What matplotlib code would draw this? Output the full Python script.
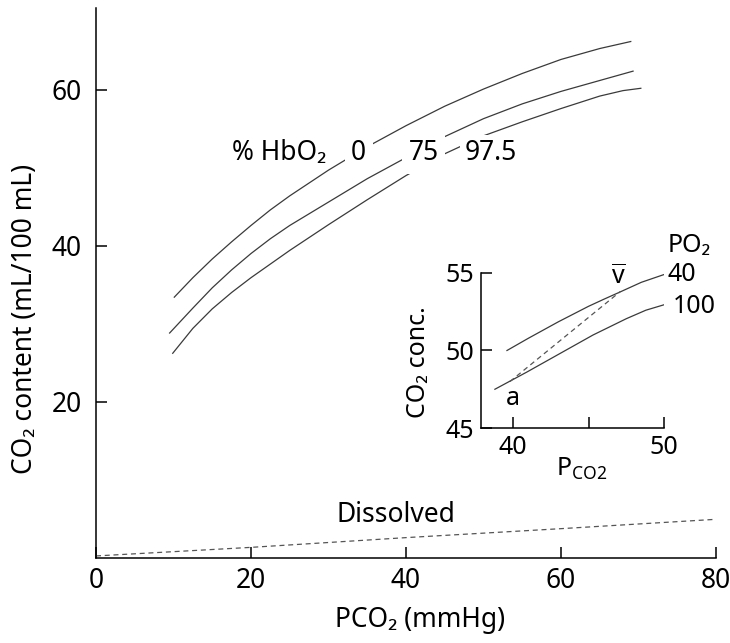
import numpy as np
import matplotlib
matplotlib.use("Agg")
import matplotlib.pyplot as plt

plt.rcParams['font.family'] = ['Noto Sans', 'DejaVu Sans']
plt.rcParams['mathtext.fontset'] = 'custom'
plt.rcParams['mathtext.rm'] = 'Noto Sans'
plt.rcParams['mathtext.it'] = 'Noto Sans:italic'

# main chart: CO2 dissociation curves for three HbO2 saturations
hb0_x = [10.1, 12.5, 15, 17.5, 20, 22.5, 25, 30, 35, 40, 45, 50, 55, 60, 65, 69]
hb0_y = [33.4, 35.9, 38.3, 40.5, 42.6, 44.6, 46.4, 49.7, 52.7, 55.4, 57.9, 60.1, 62.1, 63.9, 65.3, 66.2]
hb75_x = [9.5, 12.5, 15, 17.5, 20, 22.5, 25, 30, 35, 40, 45, 50, 55, 60, 65, 69.3]
hb75_y = [28.8, 32.0, 34.6, 36.9, 39.0, 40.9, 42.6, 45.6, 48.6, 51.3, 54.0, 56.3, 58.2, 59.8, 61.2, 62.4]
hb975_x = [9.9, 12.5, 15, 17.5, 20, 25, 30, 35, 40, 45, 50, 55, 60, 65, 68, 70.3]
hb975_y = [26.2, 29.4, 31.9, 34.0, 35.9, 39.4, 42.7, 45.9, 49.0, 51.8, 54.1, 55.9, 57.6, 59.2, 59.9, 60.2]
dissolved_x = [0, 20, 40, 60, 80]
dissolved_y = [0.2, 1.3, 2.55, 3.7, 4.9]

# inset: arterial (a) to mixed venous (v) points
po2_40_x = [39.6, 41, 43, 45, 46, 47.1, 48.5, 50]
po2_40_y = [50.0, 50.78, 51.85, 52.85, 53.3, 53.78, 54.4, 54.9]
po2_100_x = [38.8, 40.9, 43.1, 45.3, 47.5, 48.8, 50]
po2_100_y = [47.5, 48.6, 49.8, 51.0, 52.05, 52.6, 52.95]
av_x = [39.8, 47.1]
av_y = [48.0, 53.8]

line_col = '#3a3a3a'
fs = 19

fig = plt.figure(figsize=(7.3, 6.43), dpi=100)
ax = fig.add_axes([96 / 730, 1 - 557.5 / 643, 620 / 730, 549.5 / 643])

for xs, ys in [(hb0_x, hb0_y), (hb75_x, hb75_y), (hb975_x, hb975_y)]:
    ax.plot(xs, ys, color=line_col, lw=0.9, solid_joinstyle='round')
ax.plot(dissolved_x, dissolved_y, color='#555555', lw=0.9, linestyle=(0, (4, 3)))

ax.set_xlim(0, 80)
ax.set_ylim(0, 70.5)
ax.set_xticks([0, 20, 40, 60, 80])
ax.set_yticks([20, 40, 60])
ax.tick_params(direction='in', length=8, width=1.1, labelsize=fs, pad=7)
ax.tick_params(axis='y', pad=10)
for s in ['top', 'right']:
    ax.spines[s].set_visible(False)
for s in ['left', 'bottom']:
    ax.spines[s].set_linewidth(1.1)

box = dict(facecolor='white', edgecolor='none', boxstyle='square,pad=0.25')
ax.text(23.7, 50.95, '% HbO₂', fontsize=fs, ha='center', va='baseline')
ax.text(33.9, 50.95, '0', fontsize=fs, ha='center', va='baseline', bbox=box)
ax.text(42.3, 50.95, '75', fontsize=fs, ha='center', va='baseline', bbox=box)
ax.text(50.9, 50.95, '97.5', fontsize=fs, ha='center', va='baseline',
        bbox=dict(facecolor='white', edgecolor='none', boxstyle='square,pad=0.15'))
ax.text(38.7, 4.6, 'Dissolved', fontsize=fs, ha='center', va='baseline')

fig.text(25 / 730, 1 - 318.5 / 643, 'CO₂ content (mL/100 mL)', fontsize=fs,
         rotation=90, ha='center', va='center')
fig.text(420 / 730, 1 - 620 / 643, 'PCO₂ (mmHg)', fontsize=fs, ha='center', va='center')

# inset
ins = fig.add_axes([481 / 730, 1 - 428 / 643, 183 / 730, 155 / 643])
ins.patch.set_alpha(0)
ins.plot(po2_40_x, po2_40_y, color=line_col, lw=0.9, solid_joinstyle='round')
ins.plot(po2_100_x, po2_100_y, color=line_col, lw=0.9, solid_joinstyle='round')
ins.plot(av_x, av_y, color='#555555', lw=0.9, linestyle=(0, (4, 3)))
ins.set_xlim(37.88, 50)
ins.set_ylim(45, 55)
ins.set_xticks([40, 45, 50])
ins.set_xticklabels(['40', '', '50'])
ins.set_yticks([45, 50, 55])
ins.tick_params(direction='in', length=8, width=1.1, labelsize=18, pad=5)
for s in ['top', 'right']:
    ins.spines[s].set_visible(False)
for s in ['left', 'bottom']:
    ins.spines[s].set_linewidth(1.1)

ins.text(50.26, 56.37, 'PO₂', fontsize=18, ha='left', va='baseline', clip_on=False)
ins.text(50.26, 54.48, '40', fontsize=18, ha='left', va='baseline', clip_on=False)
ins.text(50.6, 52.4, '100', fontsize=18, ha='left', va='baseline', clip_on=False)
ins.text(47.0, 54.33, r'$\overline{\mathrm{v}}$', fontsize=18, ha='center', va='baseline')
ins.text(39.97, 46.48, 'a', fontsize=18, ha='center', va='baseline')

fig.text(418.5 / 730, 1 - 362 / 643, 'CO₂ conc.', fontsize=18, rotation=90,
         ha='center', va='center')
fig.text(582 / 730, 1 - 469 / 643, r'P$_{\mathrm{CO2}}$', fontsize=18,
         ha='center', va='center')

fig.savefig('out.png', dpi=100)
